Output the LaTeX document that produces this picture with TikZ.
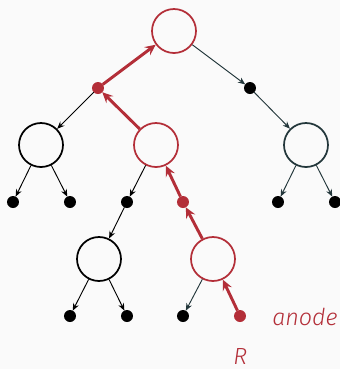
\documentclass[tikz,border=0pt]{standalone}
\usepackage{fontspec}
\setmainfont{Fira Sans}[UprightFont={* Light},ItalicFont={* Light Italic}]
\usetikzlibrary{arrows.meta}
\definecolor{myred}{RGB}{179,46,56}
\definecolor{darkteal}{RGB}{35,55,59}
\definecolor{bgc}{RGB}{250,250,250}
\begin{document}
\begin{tikzpicture}[x=0.75pt,y=-0.75pt,
  circ/.style={circle,draw,line width=1.3pt,minimum size=33pt,inner sep=0pt},
  dot/.style={circle,fill,inner sep=0pt,minimum size=9pt,outer sep=0pt},
  thinarr/.style={-{Stealth[length=5.5pt,width=4.5pt,inset=1.8pt]},line width=0.7pt},
  redarr/.style={-{Stealth[length=8pt,width=7.5pt,inset=3pt]},line width=2.2pt,draw=myred},
  lbl/.style={text=myred,font=\fontsize{17.5}{20}\selectfont\itshape,inner sep=0pt}
]
\useasboundingbox (0,0) rectangle (340,369);
\fill[bgc] (0,0) rectangle (340,369);
\node[circ,draw=myred] (r) at (174,31) {};
\node[dot,fill=myred] (a) at (98,88) {};
\node[dot] (b) at (250,88) {};
\node[circ] (c1) at (41,145) {};
\node[circ,draw=myred] (c2) at (156,145) {};
\node[circ,draw=darkteal] (c3) at (306,145) {};
\node[dot] (l1) at (13,202) {};
\node[dot] (l2) at (70,202) {};
\node[dot] (l3) at (127,202) {};
\node[dot,fill=myred] (l4) at (183,202) {};
\node[dot] (l5) at (278,202) {};
\node[dot] (l6) at (335,202) {};
\node[circ] (d1) at (99,259) {};
\node[circ,draw=myred] (d2) at (213,259) {};
\node[dot] (m1) at (70,316) {};
\node[dot] (m2) at (127,316) {};
\node[dot] (m3) at (183,316) {};
\node[dot,fill=myred] (m4) at (240,316) {};
% thin connectors
\draw[thinarr,darkteal] (r) -- (b);
\draw[thinarr,darkteal] (b) -- (c3);
\draw[thinarr,darkteal] (c3) -- (l5);
\draw[thinarr,darkteal] (c3) -- (l6);
\draw[thinarr] (a) -- (c1);
\draw[thinarr] (c1) -- (l1);
\draw[thinarr] (c1) -- (l2);
\draw[thinarr] (c2) -- (l3);
\draw[thinarr] (l3) -- (d1);
\draw[thinarr] (d1) -- (m1);
\draw[thinarr] (d1) -- (m2);
\draw[thinarr,darkteal] (d2) -- (m3);
% red path
\draw[redarr] (m4) -- (d2);
\draw[redarr] (d2) -- (l4);
\draw[redarr] (l4) -- (c2);
\draw[redarr] (c2) -- (a);
\draw[redarr] (a) -- (r);
% labels
\node[lbl,anchor=base west] (anode) at (272,325) {anode};
\node[lbl,anchor=base west] (rl) at (233,364) {R};
\end{tikzpicture}
\end{document}
